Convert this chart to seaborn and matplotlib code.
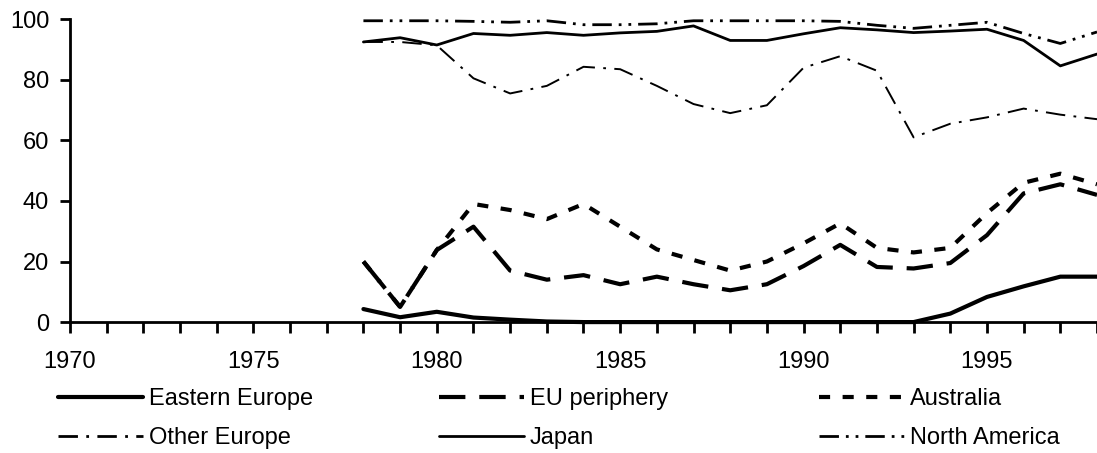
import pandas as pd
import numpy as np
import seaborn as sns
import matplotlib.pyplot as plt
from matplotlib.lines import Line2D

# Data (share, %)
years = list(range(1978, 1999))
eastern_europe = [4.3, 1.6, 3.4, 1.5, 0.8, 0.2, 0, 0, 0, 0, 0, 0, 0, 0, 0, 0, 2.8, 8.3, 11.8, 15, 15]
eu_periphery = [20, 5, 23.8, 31.5, 17, 14, 15.5, 12.5, 15, 12.5, 10.5, 12.5, 18.5, 25.5, 18.2, 17.7, 19.5, 28.7, 42.5, 45.5, 42]
australia = [20, 5, 23.8, 39, 37, 34, 39, 31.5, 24, 20.5, 17, 20, 26, 32.6, 24.5, 23, 24.5, 36, 46, 49, 45.5]
other_europe = [92.5, 92.5, 91.4, 80.5, 75.5, 78, 84.3, 83.5, 78, 72, 69, 71.6, 84, 87.8, 83, 61, 65.5, 67.6, 70.5, 68.5, 67]
japan = [92.5, 93.9, 91.5, 95.3, 94.7, 95.6, 94.7, 95.5, 96, 97.8, 93, 93, 95.2, 97.2, 96.5, 95.6, 96.1, 96.7, 93, 84.6, 88.5]
north_america = [99.5, 99.5, 99.5, 99.3, 99, 99.5, 98.2, 98.2, 98.5, 99.5, 99.5, 99.5, 99.5, 99.3, 98, 97, 98, 99, 95.3, 92, 95.8]

regions = ["Eastern Europe", "EU periphery", "Australia",
           "Other Europe", "Japan", "North America"]
series = [eastern_europe, eu_periphery, australia, other_europe, japan, north_america]

df = pd.DataFrame({
    "year": np.tile(years, len(regions)),
    "region": np.repeat(regions, len(years)),
    "value": np.concatenate(series),
})

# line styles (dash lengths in points)
dashes = {
    "Eastern Europe": "",
    "EU periphery": (19, 10),
    "Australia": (8, 9),
    "Other Europe": (14, 6, 2, 6),
    "Japan": "",
    "North America": (14, 5, 2, 5, 2, 5),
}
widths = {
    "Eastern Europe": 3.0,
    "EU periphery": 3.0,
    "Australia": 3.0,
    "Other Europe": 1.4,
    "Japan": 2.0,
    "North America": 2.0,
}

sns.set_style("ticks")
plt.rcParams["font.family"] = ["Liberation Sans", "DejaVu Sans"]
plt.rcParams["lines.scale_dashes"] = False
plt.rcParams["text.color"] = "black"
plt.rcParams["xtick.color"] = "black"
plt.rcParams["ytick.color"] = "black"

fig = plt.figure(figsize=(10.97, 4.53), dpi=100)
ax = fig.add_axes([0.0638, 0.289, 0.9362, 0.6685])

sns.lineplot(data=df, x="year", y="value", hue="region", style="region",
             size="region", hue_order=regions, style_order=regions,
             size_order=regions, palette={r: "black" for r in regions},
             dashes=dashes, sizes=widths, legend=False, ax=ax, clip_on=False)

ax.set_xlim(1970, 1998)
ax.set_ylim(0, 100)
ax.set_xticks(range(1970, 1999))
ax.set_xticklabels([str(y) if y % 5 == 0 else "" for y in range(1970, 1999)])
ax.set_yticks(range(0, 101, 20))
ax.set_xlabel("")
ax.set_ylabel("")
for s in ["top", "right"]:
    ax.spines[s].set_visible(False)
for s in ["left", "bottom"]:
    ax.spines[s].set_linewidth(2)
    ax.spines[s].set_color("black")
ax.tick_params(axis="x", length=8, width=2, pad=13, labelsize=17, colors="black")
ax.tick_params(axis="y", length=7, width=2, pad=8, labelsize=17, colors="black")

# legend: three columns placed like the original
handles = []
for r in regions:
    h = Line2D([], [], color="black", lw=max(widths[r], 2.0))
    if dashes[r]:
        h.set_dashes(dashes[r])
    handles.append(h)

col_x = [0.053, 0.400, 0.747]
for i, x in enumerate(col_x):
    leg = fig.legend([handles[i], handles[i + 3]], [regions[i], regions[i + 3]],
                     loc="upper left", bbox_to_anchor=(x, 0.143), frameon=False,
                     fontsize=17, handlelength=3.6, handletextpad=0.25,
                     borderpad=0, borderaxespad=0, labelspacing=0.72)

fig.savefig("out.png", dpi=100)
